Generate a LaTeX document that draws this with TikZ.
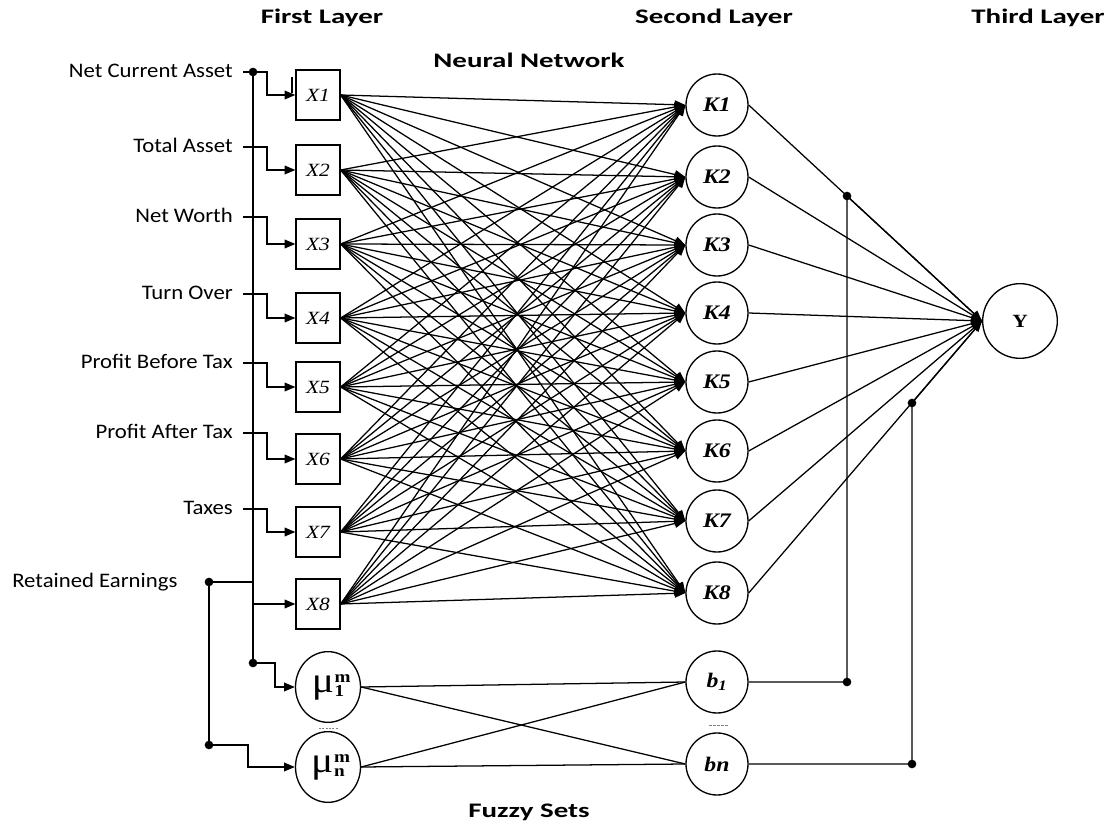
\documentclass[tikz,border=0pt]{standalone}
\usepackage{fontspec}
\setmainfont{Liberation Serif}
\newfontfamily\labfont{Carlito}[FakeStretch=1.1]
\newfontfamily\ttlfont{Carlito}[FakeStretch=1.4]
\newfontfamily\nodefont{Liberation Serif}[FakeStretch=1.15]
\usetikzlibrary{arrows.meta,shapes.geometric}
\newcommand\mulab[1]{{\fontsize{27}{27}\selectfont μ}\kern0.5pt{\fontsize{12.5}{12.5}\selectfont\bfseries\rlap{\raisebox{7.5pt}{m}}\raisebox{-3.5pt}{#1}}}
\begin{document}
\begin{tikzpicture}[x=0.75pt,y=-0.75pt,
  box/.style={draw,line width=1pt,minimum width=33pt,minimum height=37.5pt,inner sep=0pt,
    font=\nodefont\fontsize{14}{14}\selectfont\itshape},
  kn/.style={draw,circle,line width=1pt,minimum size=46.5pt,inner sep=0pt,
    font=\nodefont\fontsize{15.5}{16}\selectfont\bfseries\itshape},
  yn/.style={draw,circle,line width=1pt,minimum size=56pt,inner sep=0pt,
    font=\nodefont\fontsize{14}{15}\selectfont\bfseries},
  mun/.style={draw,ellipse,line width=1pt,minimum width=48.75pt,minimum height=53pt,inner sep=0pt,
    font=\nodefont},
  lbl/.style={font=\labfont\fontsize{15.5}{16}\selectfont,inner sep=0pt},
  ttl/.style={font=\ttlfont\bfseries\fontsize{15.5}{16}\selectfont,inner sep=0pt},
  wire/.style={line width=0.95pt},
  arr/.style={wire,-{Triangle[length=8pt,width=6.5pt]}},
  dot/.style={circle,fill,inner sep=0pt,minimum size=6.5pt}]
\useasboundingbox (0,0) rectangle (1108,827);

% titles
\node[ttl] (t1) at (322,18) {First Layer};
\node[ttl] (t2) at (714,18) {Second Layer};
\node[ttl] (t3) at (1038,18) {Third Layer};
\node[ttl] (t4) at (529,60) {Neural Network};
\node[ttl] (t5) at (529,812) {Fuzzy Sets};

% first layer boxes
\foreach \i/\y in {1/95,2/170,3/244,4/318,5/387,6/459,7/532,8/604}
  \node[box] (X\i) at (318,\y) {X\i};
% second layer
\foreach \i/\y in {1/105,2/177,3/245,4/313,5/382,6/451,7/521,8/593}
  \node[kn] (K\i) at (717,\y) {K\i};
\node[yn] (Y) at (1020,321) {Y};
% fuzzy
\node[mun] (mu1) at (328,687) {\mulab{1}};
\node[mun] (mun) at (328,767) {\mulab{n}};
\node[kn] (b1) at (717,682) {b\textsubscript{1}};
\node[kn] (bn) at (717,764) {bn};
\draw[gray,line width=0.5pt,dash pattern=on 1.5pt off 1pt] (319,728) -- (338,728);
\draw[gray,line width=0.5pt,dash pattern=on 2pt off 1pt] (709,725) -- (729,725);

% input labels
\foreach \i/\y/\t in {1/72/Net Current Asset,2/147/Total Asset,3/217/Net Worth,4/294/Turn Over,
  5/363/Profit Before Tax,6/433/Profit After Tax,7/509/Taxes}{
  \node[lbl,anchor=mid east] (L\i) at (233,\y+2) {\t};
  \coordinate (in\i) at (243,\y);
  \draw[arr] (in\i) -- ++(24,0) |- (X\i.west);
}
\node[lbl,anchor=mid west] (L8) at (12,584) {Retained Earnings};

% bus
\coordinate (busT) at (253,72);
\coordinate (busB) at (253,663);
\coordinate (bus8) at (253,604);
\coordinate (busR) at (253,582);
\draw[wire] (busT) -- (busB);
\node[dot] at (busT) {};
\node[dot] at (busB) {};
\draw[arr] (bus8) -- (X8.west);
\draw[arr] (busB) -- (275,663) |- (mu1.west);
\draw[line width=1.2pt] (292,77) -- (292,93);

% retained earnings
\coordinate (rd) at (209,582);
\coordinate (rd2) at (209,745);
\draw[wire] (rd) -- (busR);
\draw[wire] (rd) -- (rd2);
\node[dot] at (rd) {};
\node[dot] at (rd2) {};
\draw[arr] (rd2) -- (248,745) |- (mun.west);

% neural connections
\foreach \i in {1,...,8}
  \foreach \j in {1,...,8}
    \draw[arr] (X\i.east) -- (K\j.west);
\foreach \j in {1,...,8}
  \draw[arr] (K\j.east) -- (Y.west);

% fuzzy connections
\draw[wire] (mu1.east) -- (b1.west);
\draw[wire] (mu1.east) -- (bn.west);
\draw[wire] (mun.east) -- (b1.west);
\draw[wire] (mun.east) -- (bn.west);

% bias
\coordinate (p1) at (847,682);
\coordinate (q1) at (847,196);
\coordinate (p2) at (912,764);
\coordinate (q2) at (912,403);
\draw[wire] (b1.east) -- (p1) -- (q1) -- (Y.west);
\draw[wire] (bn.east) -- (p2) -- (q2) -- (Y.west);
\foreach \c in {p1,q1,p2,q2} \node[dot] at (\c) {};
\end{tikzpicture}
\end{document}
